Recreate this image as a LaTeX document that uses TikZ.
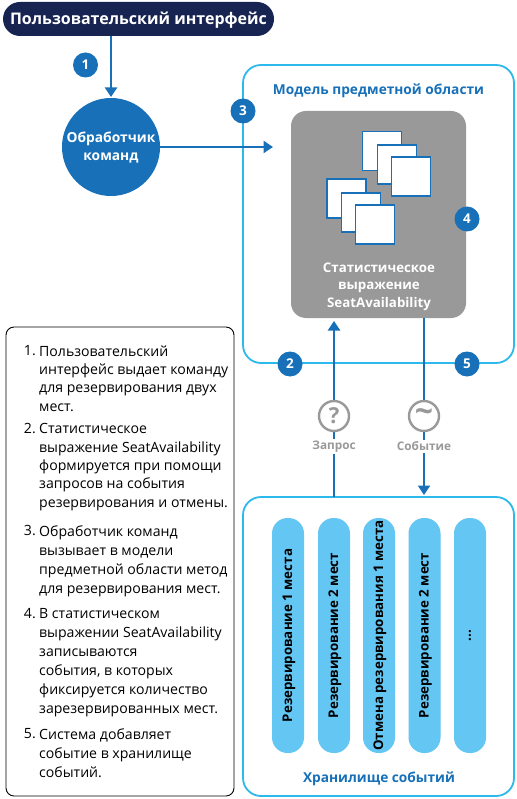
\documentclass[tikz,border=0pt]{standalone}
\usepackage{fontspec}
\setmainfont{Open Sans}
\usepackage{tikz}
\usetikzlibrary{arrows.meta}
\usetikzlibrary{positioning}
\definecolor{navy}{HTML}{172351}
\definecolor{mainblue}{HTML}{1770B8}
\definecolor{skyline}{HTML}{2CB9EC}
\definecolor{barblue}{HTML}{63C6F3}
\definecolor{boxgray}{HTML}{999999}
\tikzset{
    badge/.style = {circle, fill=mainblue, text=white, inner sep=0pt, minimum size=25pt, font=\fontsize{13.5}{13}\selectfont\bfseries},
    area/.style = {rectangle, rounded corners=18pt, draw=skyline, line width=1.8pt, fill=white, minimum width=271pt},
    areatitle/.style = {text=mainblue, inner sep=0pt, font=\fontsize{13.7}{14}\selectfont\bfseries},
    card/.style = {rectangle, draw=mainblue, line width=1.5pt, fill=white, inner sep=0pt, minimum size=39pt},
    eventbar/.style = {rectangle, rounded corners=15.5pt, fill=barblue, inner sep=0pt, minimum width=32pt, minimum height=235pt},
    bartext/.style = {rotate=90, inner sep=0pt, font=\fontsize{13.3}{14}\selectfont\bfseries},
    kind/.style = {circle, draw=boxgray, line width=2.4pt, fill=white, text=boxgray, inner sep=0pt, minimum size=30pt, font=\fontsize{22}{22}\selectfont\bfseries},
    kindtext/.style = {fill=white, text=boxgray, inner sep=1.5pt, font=\fontsize{11.8}{13}\selectfont\bfseries},
    stepnum/.style = {anchor=north east, inner sep=0pt, font=\fontsize{14.1}{18}\selectfont},
    steptext/.style = {anchor=north west, inner sep=0pt, align=left},
    flow/.style = {-{Triangle[length=9.5pt,width=12pt]}, line width=2.5pt, draw=mainblue}
}
\begin{document}
\begin{tikzpicture}[x=1pt,y=-1pt]
\useasboundingbox (0,0) rectangle (516,799);
% areas
\node[area, minimum height=298pt] at (378.5,214) (domain) {};
\node[area, minimum height=299pt] at (378.5,646.5) (store) {};
\node[rectangle, rounded corners=8pt, draw=black, line width=0.9pt, minimum width=228pt, minimum height=469pt] at (120,561.5) (legend) {};
%
\node[rectangle, rounded corners=17pt, fill=navy, text=white, inner sep=0pt, minimum width=271pt, minimum height=34pt] at (138.5,19) (ui) {};
\node[text=white, inner sep=0pt, font=\fontsize{16}{16}\selectfont\bfseries] at (138.5,20) (uitext) {Пользовательский интерфейс};
\node[circle, fill=mainblue, inner sep=0pt, minimum size=98pt] at (111,147) (handler) {};
\node[text=white, inner sep=0pt, align=center, font=\fontsize{13.8}{18}\selectfont\bfseries] at (111,148) (handlertext) {Обработчик\\команд};
\node[rectangle, rounded corners=15pt, fill=boxgray, inner sep=0pt, minimum width=175pt, minimum height=207pt] at (378.5,214.5) (aggregate) {};
\node[areatitle] at (378.5,90.5) (domaintitle) {Модель предметной области};
\node[areatitle] at (379,778.5) (storetitle) {Хранилище событий};
% cards
\node[card] at (382,151) (carda) {};
\node[card] at (397,164.5) (cardb) {};
\node[card] at (411,176.5) (cardc) {};
\node[card] at (346.5,198.5) (cardd) {};
\node[card] at (361,212.5) (carde) {};
\node[card] at (375,224.5) (cardf) {};
\node[text=white, inner sep=0pt, align=center, font=\fontsize{13.3}{17.5}\selectfont\bfseries] at (379,286.5) (aggtext) {Статистическое\\выражение\\SeatAvailability};
% arrows
\coordinate (handlerin) at (111,97);
\coordinate (domainin) at (273,147);
\coordinate (queryout) at (334,497);
\coordinate (queryin) at (334,321);
\coordinate (eventout) at (424,318);
\coordinate (eventin) at (424,495);
\draw[flow] (ui.south -| handlerin) -- (handlerin);
\draw[flow] (handler.east) -- (domainin);
\draw[flow] (queryout) -- (queryin);
\draw[flow] (eventout) -- (eventin);
% query and event
\node[kind] at (334,416) (query) {?};
\node[kind, font=\fontsize{32}{32}\selectfont\bfseries] at (424,416) (event) {\raisebox{1pt}{\textasciitilde}};
\node[kindtext] at (334,446.5) (querytext) {Запрос};
\node[kindtext] at (424,446.5) (eventtext) {Событие};
% badges
\node[badge] at (85.5,65) (one) {1};
\node[badge] at (290,364) (two) {2};
\node[badge] at (243,111) (three) {3};
\node[badge] at (467,219) (four) {4};
\node[badge] at (467,364) (five) {5};
% events
\node[eventbar] at (288,635.5) (bara) {};
\node[eventbar] at (334,635.5) (barb) {};
\node[eventbar] at (379,635.5) (barc) {};
\node[eventbar] at (424.5,635.5) (bard) {};
\node[eventbar] at (470,635.5) (bare) {};
\node[bartext] at (289,635.5) (texta) {Резервирование 1 места};
\node[bartext] at (335,635.5) (textb) {Резервирование 2 мест};
\node[bartext] at (380,635.5) (textc) {Отмена резервирования 1 места};
\node[bartext] at (425.5,635.5) (textd) {Резервирование 2 мест};
\node[bartext] at (bare) (texte) {...};
% steps
\tikzset{every node/.append style={font=\fontsize{14.1}{18.3}\selectfont}}
\node[stepnum] at (36,345.5) (numa) {1.};
\node[steptext] at (39,345.5) (stepa) {Пользовательский\\интерфейс выдает команду\\для резервирования двух\\мест.};
\node[stepnum] at (36,423.5) (numb) {2.};
\node[steptext] at (39,423.5) (stepb) {Статистическое\\выражение SeatAvailability\\формируется при помощи\\запросов на события\\резервирования и отмены.};
\node[stepnum] at (36,525) (numc) {3.};
\node[steptext, font=\fontsize{14.1}{19}\selectfont] at (39,525) (stepc) {Обработчик команд\\вызывает в модели\\предметной области метод\\для резервирования мест.};
\node[stepnum] at (36,608) (numd) {4.};
\node[steptext, font=\fontsize{14.1}{19.1}\selectfont] at (39,608) (stepd) {В статистическом\\выражении SeatAvailability\\записываются\\события, в которых\\фиксируется количество\\зарезервированных мест.};
\node[stepnum] at (36,728) (nume) {5.};
\node[steptext, font=\fontsize{14.1}{19.1}\selectfont] at (39,728) (stepe) {Система добавляет\\событие в хранилище\\событий.};
\end{tikzpicture}
\end{document}
